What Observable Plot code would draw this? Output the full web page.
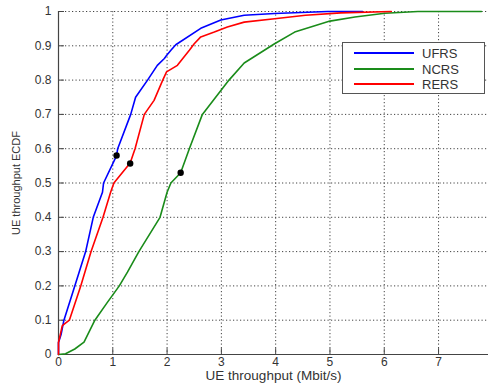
<!DOCTYPE html>
<html>
<head>
<meta charset="utf-8">
<script src="https://cdn.jsdelivr.net/npm/d3@7"></script>
<script src="https://cdn.jsdelivr.net/npm/@observablehq/plot@0.6"></script>
<style>
  html, body { margin: 0; padding: 0; background: #fff; }
  #wrap { position: relative; width: 488px; height: 385px; font-family: "Liberation Sans", Arial, sans-serif; }
  #legend { position: absolute; left: 342px; top: 42px; width: 143px; height: 52px; background: #fff;
            border: 1px solid #555; box-sizing: border-box; }
  #legend .row { position: absolute; left: 0; height: 16px; display: flex; align-items: center; }
  #legend .sw { display: inline-block; width: 60px; height: 2px; margin-left: 11px; margin-right: 8px; }
  #legend .lab { font-size: 13px; color: #333; }
</style>
</head>
<body>
<div id="wrap"><div id="legend"></div></div>
<script>
// Series names and colours
const seriesNames = ["UFRS", "NCRS", "RERS"];
const seriesColors = ["#0000ff", "#1a8c1a", "#ff0000"];

// UFRS (blue) ECDF points
const ufrsX = [0, 0, 0.05, 0.10, 0.30, 0.50, 0.64, 0.81, 0.83, 1.07, 1.09, 1.33, 1.42, 1.64, 1.82, 1.95, 1.99, 2.07, 2.16, 2.62, 2.99, 3.42, 3.98, 4.96, 5.6];
const ufrsY = [0, 0.035, 0.06, 0.10, 0.20, 0.30, 0.40, 0.473, 0.50, 0.58, 0.60, 0.70, 0.75, 0.80, 0.843, 0.863, 0.872, 0.887, 0.903, 0.951, 0.975, 0.989, 0.994, 1.0, 1.0];

// NCRS (green) ECDF points
const ncrsX = [0, 0.13, 0.30, 0.47, 0.67, 0.90, 1.12, 1.27, 1.48, 1.87, 2.00, 2.07, 2.25, 2.41, 2.65, 2.87, 3.14, 3.42, 3.98, 4.35, 5.00, 5.46, 6.01, 6.62, 7.79];
const ncrsY = [0, 0.002, 0.016, 0.036, 0.10, 0.152, 0.20, 0.24, 0.30, 0.40, 0.473, 0.50, 0.53, 0.60, 0.70, 0.745, 0.80, 0.85, 0.906, 0.94, 0.972, 0.984, 0.995, 1.0, 1.0];

// RERS (red) ECDF points
const rersX = [0, 0, 0.07, 0.20, 0.41, 0.60, 0.82, 0.96, 1.02, 1.32, 1.41, 1.58, 1.76, 1.92, 1.99, 2.19, 2.41, 2.50, 2.62, 2.87, 3.11, 3.42, 3.98, 4.55, 5.2, 6.13];
const rersY = [0, 0.035, 0.084, 0.10, 0.20, 0.30, 0.40, 0.473, 0.50, 0.558, 0.60, 0.70, 0.741, 0.80, 0.824, 0.843, 0.887, 0.906, 0.926, 0.94, 0.955, 0.969, 0.979, 0.989, 0.996, 1.0];

// Marked points (black dots)
const dotX = [1.07, 1.32, 2.25];
const dotY = [0.58, 0.557, 0.53];

// Tick values
const xTicks = [0, 1, 2, 3, 4, 5, 6, 7];
const yTicks = [0, 0.1, 0.2, 0.3, 0.4, 0.5, 0.6, 0.7, 0.8, 0.9, 1];

const toRows = (xs, ys, name) => xs.map((x, i) => ({x, y: ys[i], s: name}));
const lines = [
  ...toRows(ufrsX, ufrsY, "UFRS"),
  ...toRows(ncrsX, ncrsY, "NCRS"),
  ...toRows(rersX, rersY, "RERS")
];
const dots = dotX.map((x, i) => ({x, y: dotY[i]}));
const fmt = d => String(+d.toFixed(1));

const plot = Plot.plot({
  width: 488,
  height: 385,
  marginLeft: 58,
  marginRight: 0,
  marginTop: 11,
  marginBottom: 31,
  style: { fontFamily: "Liberation Sans, Arial, sans-serif", fontSize: "12px", color: "#333", background: "#fff" },
  x: { domain: [0, 7.92] },
  y: { domain: [0, 1] },
  color: { domain: seriesNames, range: seriesColors },
  marks: [
    Plot.gridX(xTicks, { stroke: "#222", strokeOpacity: 0.85, strokeDasharray: "1.2,2.3" }),
    Plot.gridY(yTicks, { stroke: "#222", strokeOpacity: 0.85, strokeDasharray: "1.2,2.3" }),
    Plot.ruleX(xTicks, { y1: 0, y2: 0.017, stroke: "#444" }),
    Plot.ruleY(yTicks, { x1: 0, x2: 0.11, stroke: "#444" }),
    Plot.ruleX([0], { stroke: "#444", strokeWidth: 1.2 }),
    Plot.ruleY([0], { stroke: "#444", strokeWidth: 1.2 }),
    Plot.axisX(xTicks, { tickSize: 0, tickPadding: 3, fontSize: 12, tickFormat: fmt, label: null }),
    Plot.axisY(yTicks, { tickSize: 0, tickPadding: 7, fontSize: 12, tickFormat: fmt, label: null }),
    Plot.axisX({ ticks: [], tickSize: 0, fontSize: 13.5, label: "UE throughput (Mbit/s)", labelAnchor: "center", labelOffset: 25, labelArrow: "none" }),
    Plot.axisY({ ticks: [], tickSize: 0, fontSize: 11, label: "UE throughput ECDF", labelAnchor: "center", labelOffset: 46, labelArrow: "none" }),
    Plot.line(lines, { x: "x", y: "y", z: "s", stroke: "s", strokeWidth: 1.6 }),
    Plot.dot(dots, { x: "x", y: "y", r: 3.2, fill: "black", stroke: "none" })
  ]
});
document.getElementById("wrap").prepend(plot);

// Legend
const legend = document.getElementById("legend");
const rowTops = [2, 18, 33];
seriesNames.forEach((name, i) => {
  const row = document.createElement("div");
  row.className = "row";
  row.style.top = rowTops[i] + "px";
  const sw = document.createElement("span");
  sw.className = "sw";
  sw.style.background = seriesColors[i];
  const lab = document.createElement("span");
  lab.className = "lab";
  lab.textContent = name;
  row.appendChild(sw);
  row.appendChild(lab);
  legend.appendChild(row);
});
</script>
</body>
</html>
